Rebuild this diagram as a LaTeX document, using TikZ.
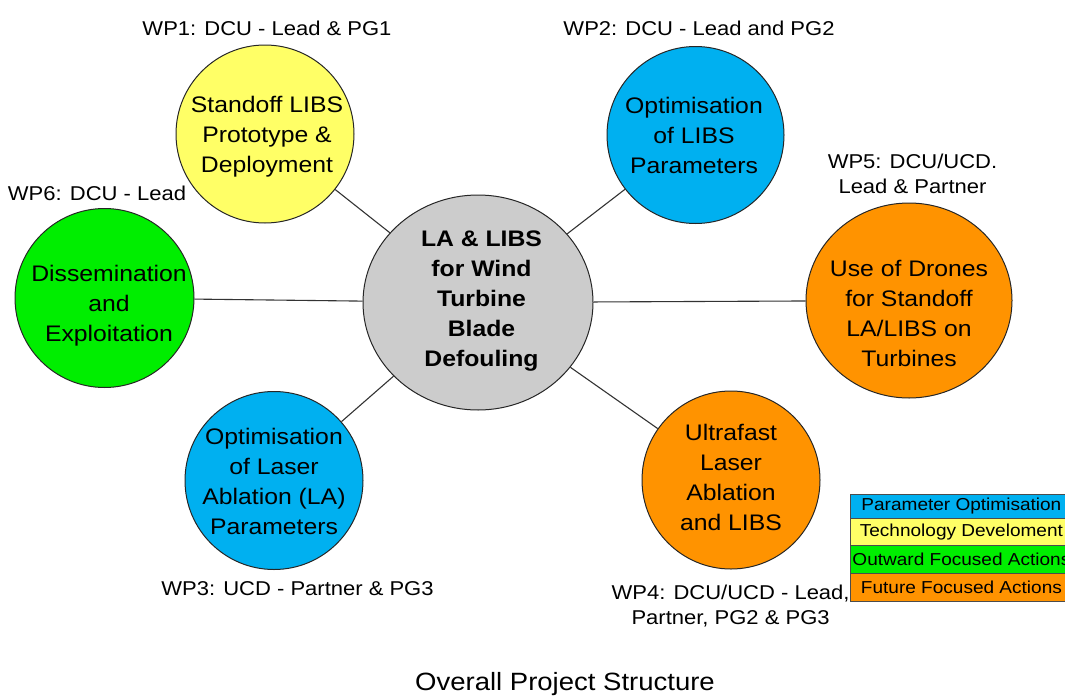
\documentclass[tikz,border=0pt]{standalone}
\usepackage{fontspec}
\setmainfont{Liberation Sans}[FakeStretch=1.1]
\usetikzlibrary{shapes.geometric}
\definecolor{cblue}{RGB}{0,176,240}
\definecolor{cyellow}{RGB}{255,255,102}
\definecolor{cgreen}{RGB}{0,238,0}
\definecolor{corange}{RGB}{255,147,0}
\definecolor{cgray}{RGB}{204,204,204}
\begin{document}
\begin{tikzpicture}[x=1pt,y=-1pt,
  bubble/.style={circle,draw=black!85,line width=1pt,inner sep=0pt},
  oval/.style={ellipse,draw=black!85,line width=1pt,inner sep=0pt},
  ctext/.style={align=center,font=\fontsize{22.5}{30}\selectfont,inner sep=0pt},
  wp/.style={font=\fontsize{20}{25}\selectfont,inner sep=0pt,align=center},
  link/.style={draw=black!80,line width=1.1pt},
  legcell/.style={draw=black!70,line width=0.8pt,minimum width=222pt,inner sep=0pt,anchor=north west,font=\fontsize{17.3}{20}\selectfont}
]
\useasboundingbox (0,0) rectangle (1065,696);

% circles
\node[oval,fill=cgray,minimum width=230pt,minimum height=215pt] (g) at (478,302.5) {};
\node[bubble,fill=cyellow,minimum size=178pt] (c1) at (265,134) {};
\node[bubble,fill=cblue,minimum size=177pt] (c2) at (695.5,135) {};
\node[bubble,fill=cblue,minimum size=178pt] (c3) at (274,480.5) {};
\node[bubble,fill=corange,minimum size=178pt] (c4) at (731,480) {};
\node[oval,fill=corange,minimum width=206pt,minimum height=195pt] (c5) at (909,300.5) {};
\node[bubble,fill=cgreen,minimum size=179pt] (c6) at (104.5,298) {};

% connectors
\draw[link] (g) -- (c1);
\draw[link] (g) -- (c2);
\draw[link] (g) -- (c3);
\draw[link] (g) -- (c4);
\draw[link] (g) -- (c5);
\draw[link] (g) -- (c6);

% circle texts
\node[ctext,font=\bfseries\fontsize{22.5}{30}\selectfont] (tg) at (481.5,300.7) {\strut LA \& LIBS\\for Wind\\Turbine\\Blade\\Defouling\strut};
\node[ctext] (t1) at (267,136.9) {\strut Standoff LIBS\\Prototype \&\\Deployment\strut};
\node[ctext] (t2) at (694,137) {\strut Optimisation\\of LIBS\\Parameters\strut};
\node[ctext] (t3) at (274,483.5) {\strut Optimisation\\of Laser\\Ablation (LA)\\Parameters\strut};
\node[ctext] (t4) at (731,479.7) {\strut Ultrafast\\Laser\\Ablation\\and LIBS\strut};
\node[ctext] (t5) at (909,315.5) {\strut Use of Drones\\for Standoff\\LA/LIBS on\\Turbines\strut};
\node[ctext] (t6) at (109,305.3) {\strut Dissemination\\and\\Exploitation\strut};

% WP labels
\node[wp,anchor=base] (w1) at (267,35) {WP1: DCU - Lead \& PG1};
\node[wp,anchor=base] (w2) at (699,35) {WP2: DCU - Lead and PG2};
\node[wp,anchor=base] (w6) at (97,200.7) {WP6: DCU - Lead};
\node[wp] (w5) at (912.5,175.8) {\strut WP5: DCU/UCD.\\Lead \& Partner\strut};
\node[wp,anchor=base] (w3) at (297.5,595) {WP3: UCD - Partner \& PG3};
\node[wp] (w4) at (730.6,606.5) {\strut WP4: DCU/UCD - Lead,\\Partner, PG2 \& PG3\strut};

% title
\node[anchor=base,inner sep=0pt,font=\fontsize{25}{30}\selectfont] (title) at (565,690) {Overall Project Structure};

% legend
\begin{scope}
\clip (0,0) rectangle (1065,696);
\node[legcell,fill=cblue,minimum height=24pt] (l1) at (850,494) {Parameter Optimisation};
\node[legcell,fill=cyellow,minimum height=27pt] (l2) at (850,518) {Technology Develoment};
\node[legcell,fill=cgreen,minimum height=28pt] (l3) at (850,545) {Outward Focused Actions};
\node[legcell,fill=corange,minimum height=28pt] (l4) at (850,573) {Future Focused Actions};
\end{scope}
\end{tikzpicture}
\end{document}
